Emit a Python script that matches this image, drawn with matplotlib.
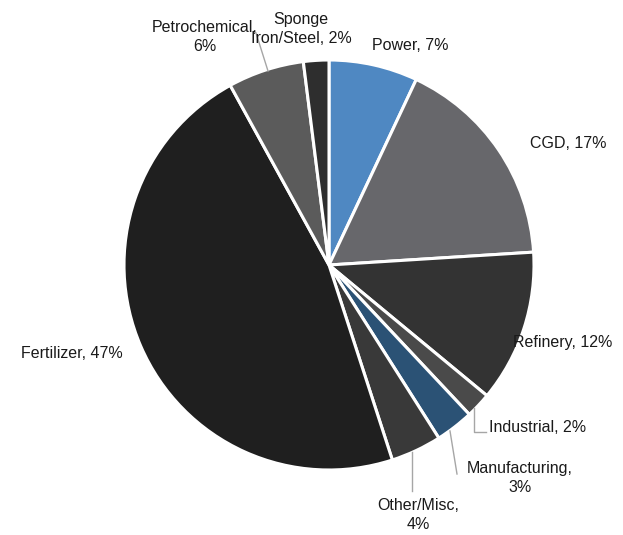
import matplotlib
matplotlib.use("Agg")
import matplotlib.pyplot as plt

categories = ["Power", "CGD", "Refinery", "Industrial", "Manufacturing",
              "Other/Misc", "Fertilizer", "Petrochemical", "Sponge\nIron/Steel"]
shares = [7, 17, 12, 2, 3, 4, 47, 6, 2]
colors = ["#4f88c2", "#67676b", "#333333", "#4a4a4a", "#2b5275",
          "#393939", "#1f1f1f", "#5b5b5b", "#2e2e2e"]

W, H = 623, 535
fig = plt.figure(figsize=(W / 100, H / 100), dpi=100)
cx, cy, r = 329, 265, 205
ax = fig.add_axes([(cx - r) / W, (H - cy - r) / H, 2 * r / W, 2 * r / H])
ax.pie(shares, colors=colors, startangle=90, counterclock=False,
       wedgeprops=dict(edgecolor="white", linewidth=2.2))
ax.set_xlim(-1, 1)
ax.set_ylim(-1, 1)
ax.axis("off")

def px(x, y):
    return ((x - cx) / r, (cy - y) / r)

fs = 11.5
tc = "#1a1a1a"
fam = ["Liberation Sans", "DejaVu Sans"]
labels = [f"{c}, {s}%" for c, s in zip(categories, shares)]
labels[4] = "Manufacturing,\n3%"
labels[5] = "Other/Misc,\n4%"
labels[7] = "Petrochemical,\n6%"
labels[8] = "Sponge\nIron/Steel, 2%"

pos = {
    0: (410, 46),
    1: (568, 143),
    2: (563, 343),
    3: (538, 428),
    4: (520, 478),
    5: (418, 515),
    6: (72, 353),
    7: (205, 37),
    8: (301, 29),
}
for i, (x, y) in pos.items():
    tx, ty = px(x, y)
    ax.text(tx, ty, labels[i], ha="center", va="center", fontsize=fs, color=tc,
            family=fam, linespacing=1.4, clip_on=False)

lines = [
    [(474, 408), (474, 432), (486, 432)],
    [(450, 431), (457, 474)],
    [(412, 452), (412, 491)],
    [(268, 71), (256, 33)],
]
for seg in lines:
    pts = [px(x, y) for x, y in seg]
    ax.plot([p[0] for p in pts], [p[1] for p in pts], color="#a6a6a6",
            linewidth=1, clip_on=False)

fig.savefig("out.png", dpi=100, facecolor="white")
